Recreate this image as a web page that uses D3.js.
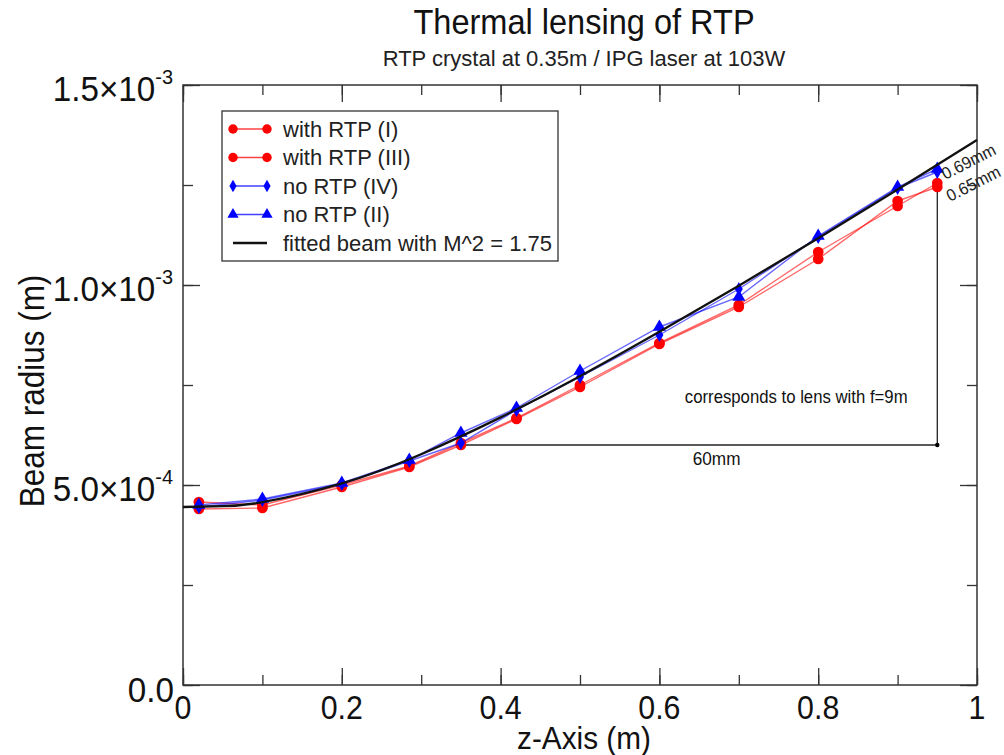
<!DOCTYPE html>
<html><head><meta charset="utf-8">
<script src="https://cdn.jsdelivr.net/npm/d3@7"></script>
<style>body{margin:0;background:#fff;} svg{font-family:"Liberation Sans",Arial,sans-serif;}</style>
</head><body>
<svg id="c" width="1004" height="755"></svg>
<script>
// ---- data ----
const zPos = [0.02,0.1,0.2,0.285,0.35,0.42,0.5,0.6,0.7,0.8,0.9,0.95];
const withRTP_I   = [0.4575,0.45,0.5,0.5475,0.605,0.6675,0.75,0.855,0.95,1.0825,1.1975,1.255];
const withRTP_III = [0.44,0.4425,0.495,0.545,0.60,0.665,0.745,0.8525,0.945,1.065,1.21,1.245];
const noRTP_IV    = [0.445,0.4625,0.5025,0.56,0.605,0.6875,0.77,0.875,0.99,1.12,1.2425,1.2825];
const noRTP_II    = [0.45,0.465,0.505,0.5625,0.63,0.6925,0.785,0.895,0.97,1.1225,1.245,1.29];
const fitZ = [0,0.05,0.1,0.2,0.3,0.4,0.5,0.6,0.7,0.8,0.9,1.0];
const fitW = [0.445,0.447,0.457,0.504,0.577,0.669,0.772,0.883,0.998,1.117,1.239,1.3625];
const xTicks = [0,0.2,0.4,0.6,0.8,1];
const xTickLabels = ["0","0.2","0.4","0.6","0.8","1"];
const yTicks = [0,0.5,1.0,1.5];
const yTickMant = ["0.0","5.0","1.0","1.5"];
const yTickExp  = [null,"-4","-3","-3"];
const legendLabels = ["with RTP (I)","with RTP (III)","no RTP (IV)","no RTP (II)","fitted beam with M^2 = 1.75"];
// annotation values (units of 1e-3 m)
const annStart = [0.35,0.6];
const annEnd = [0.95,0.6];
const annTopHigh = 1.29, annTopLow = 1.25;

const svg = d3.select("#c");
const L=183,R=977,T=85,B=685;
const x = d3.scaleLinear().domain([0,1]).range([L,R]);
const y = d3.scaleLinear().domain([0,1.5]).range([B,T]);
const axisCol="#333";

// narrow text helper
function ntext(px,py,str,size,sx,anchor,fill,rot){
  const g = svg.append("g").attr("transform",`translate(${px},${py})${rot?` rotate(${rot})`:""} scale(${sx},1)`);
  return g.append("text").attr("text-anchor",anchor||"start").attr("font-size",size).attr("fill",fill||"#111").text(str);
}

// titles
ntext(584,34,"Thermal lensing of RTP",35,0.93,"middle","#111");
ntext(584,66,"RTP crystal at 0.35m / IPG laser at 103W",22,1.0,"middle","#222");

// frame
svg.append("rect").attr("x",L).attr("y",T).attr("width",R-L).attr("height",B-T).attr("fill","none").attr("stroke",axisCol).attr("stroke-width",1.5);

// axes (inner ticks)
const mk = (axis,tr,vals,size)=>svg.append("g").attr("transform",tr).call(axis.tickValues(vals).tickSize(-size).tickFormat(""));
const minorX = d3.range(0,1.0001,0.1), minorY = d3.range(0,1.5001,0.25);
const gs = [
  mk(d3.axisBottom(x),`translate(0,${B})`,minorX,10), mk(d3.axisBottom(x),`translate(0,${B})`,xTicks,17),
  mk(d3.axisTop(x),`translate(0,${T})`,minorX,10), mk(d3.axisTop(x),`translate(0,${T})`,xTicks,17),
  mk(d3.axisLeft(y),`translate(${L},0)`,minorY,10), mk(d3.axisLeft(y),`translate(${L},0)`,yTicks,17),
  mk(d3.axisRight(y),`translate(${R},0)`,minorY,10), mk(d3.axisRight(y),`translate(${R},0)`,yTicks,17)
];
gs.forEach(g=>{ g.select(".domain").remove(); g.selectAll("line").attr("stroke",axisCol).attr("stroke-width",1.3); });

// x tick labels
xTicks.forEach((v,i)=>ntext(x(v),719,xTickLabels[i],33,0.92,"middle","#111"));

// y tick labels with superscripts
yTicks.forEach((v,i)=>{
  const endX = yTickExp[i] ? L-10 : L-9;
  const g = svg.append("g").attr("transform",`translate(${endX},${y(v)+(i===0?17:16)}) scale(0.95,1)`);
  const t = g.append("text").attr("text-anchor","end").attr("font-size",35).attr("fill","#111");
  if(yTickExp[i]){
    t.append("tspan").text(yTickMant[i]+"\u00d710");
    t.append("tspan").attr("font-size",21).attr("dy",-17).text(yTickExp[i]);
  } else t.text(yTickMant[i]);
});

// axis titles
ntext(584,749,"z-Axis (m)",32,0.93,"middle","#111");
ntext(44,391,"Beam radius (m)",35,0.9,"middle","#111",-90);

// annotations (lines)
const ann = svg.append("g");
ann.append("line").attr("x1",x(annStart[0])).attr("y1",y(annStart[1])).attr("x2",x(annEnd[0])).attr("y2",y(annEnd[1])).attr("stroke","#222").attr("stroke-width",1.3);
ann.append("line").attr("x1",x(annEnd[0])).attr("y1",y(annEnd[1])).attr("x2",x(annEnd[0])).attr("y2",y(annTopHigh)).attr("stroke","#222").attr("stroke-width",1.3);

// series
const line = d3.line().x(d=>x(d[0])).y(d=>y(d[1]));
const symOf = s => s==="circle"?d3.symbolCircle:s==="diamond"?d3.symbolDiamond:d3.symbolTriangle;
function series(vals,color,shape){
  const data = zPos.map((z,i)=>[z,vals[i]]);
  svg.append("path").datum(data).attr("d",line).attr("fill","none").attr("stroke",color).attr("stroke-opacity",0.6).attr("stroke-width",1.4);
  const sym = d3.symbol().type(symOf(shape)).size(shape==="circle"?90:shape==="diamond"?55:75);
  svg.append("g").selectAll("path").data(data).join("path")
    .attr("transform",d=>`translate(${x(d[0])},${y(d[1])})`).attr("d",sym).attr("fill",color);
}
series(withRTP_I,"#ff0000","circle");
series(withRTP_III,"#ff0000","circle");
series(noRTP_IV,"#0000ff","diamond");
series(noRTP_II,"#0000ff","triangle");

// fitted curve
svg.append("path").datum(fitZ.map((z,i)=>[z,fitW[i]])).attr("d",d3.line().x(d=>x(d[0])).y(d=>y(d[1])).curve(d3.curveNatural))
  .attr("fill","none").attr("stroke","#111").attr("stroke-width",2.3);

// annotation dots and text
[[annStart[0],annStart[1]],[annEnd[0],annEnd[1]],[annEnd[0],annTopHigh-0.0075],[annEnd[0],annTopLow]].forEach(p=>{
  ann.append("circle").attr("cx",x(p[0])).attr("cy",y(p[1])).attr("r",2.2).attr("fill","#000");
});
ntext(x(0.632),y(0.705),"corresponds to lens with f=9m",18,0.93,"start","#111");
ntext(x(0.672),y(0.55),"60mm",18.5,0.93,"middle","#111");
ntext(x(0.96),y(annTopHigh)+11,"0.69mm",17,0.95,"start","#222",-27);
ntext(x(0.966),y(annTopLow)+17,"0.65mm",17,0.95,"start","#222",-27);

// legend
const lg = svg.append("g");
lg.append("rect").attr("x",222).attr("y",111).attr("width",336).attr("height",150).attr("fill","#fff").attr("stroke",axisCol).attr("stroke-width",1.3);
const legendCols=["#ff0000","#ff0000","#0000ff","#0000ff","#111"];
const legendShapes=["circle","circle","diamond","triangle",null];
legendLabels.forEach((lab,i)=>{
  const yy = 129 + i*28.5;
  lg.append("line").attr("x1",233).attr("x2",267).attr("y1",yy).attr("y2",yy).attr("stroke",legendCols[i])
    .attr("stroke-width",legendShapes[i]?1.5:2.5).attr("stroke-opacity",legendShapes[i]?0.75:1);
  if(legendShapes[i]){
    const s=legendShapes[i];
    const sym=d3.symbol().type(symOf(s)).size(s==="circle"?70:s==="diamond"?45:55);
    [233,267].forEach(xx=>lg.append("path").attr("transform",`translate(${xx},${yy})`).attr("d",sym).attr("fill",legendCols[i]));
  }
  lg.append("text").attr("x",283).attr("y",yy+7.5).attr("font-size",22).attr("fill","#222").text(lab);
});
</script>
</body></html>
